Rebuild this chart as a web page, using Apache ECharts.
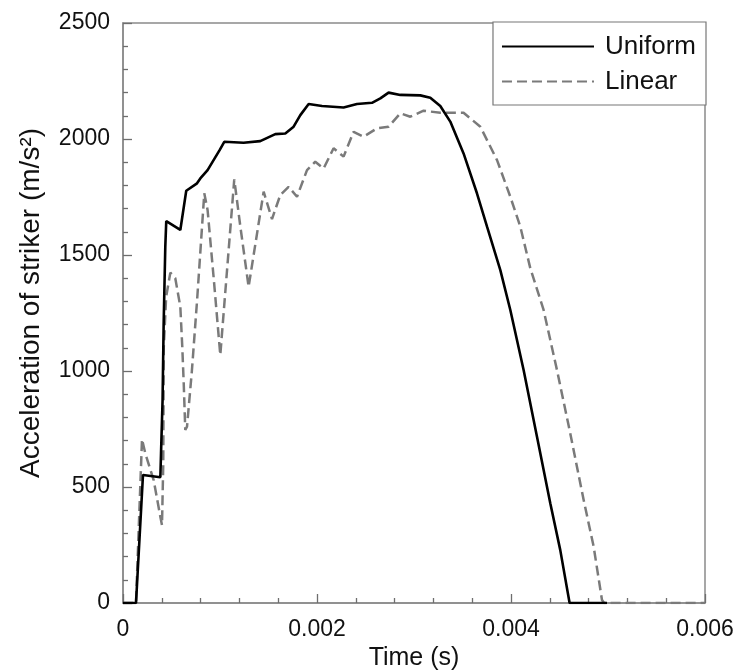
<!DOCTYPE html>
<html>
<head>
<meta charset="utf-8">
<script src="https://cdn.jsdelivr.net/npm/echarts@6/dist/echarts.min.js"></script>
<style>
html,body{margin:0;padding:0;background:#fff;}
#chart{width:737px;height:670px;}
</style>
</head>
<body>
<div id="chart"></div>
<script>
// Time (s) and acceleration (m/s^2)
const uniformTime = [0, 0.000134, 0.000206, 0.000385, 0.000392, 0.000408, 0.000419, 0.000436, 0.000446,
  0.000591, 0.000652, 0.000763, 0.000797, 0.000872, 0.000934, 0.000996, 0.001044, 0.001243, 0.001415,
  0.00157, 0.001673, 0.001759, 0.001828, 0.001914, 0.002052, 0.002274, 0.002412, 0.002567, 0.002653,
  0.002738, 0.002859, 0.003065, 0.003168, 0.003271, 0.003374, 0.003511, 0.003649, 0.003753, 0.00389,
  0.003993, 0.00413, 0.004268, 0.004405, 0.004508, 0.004604, 0.00499];
const uniformAcc = [0, 0, 552, 542, 645, 875, 1200, 1536, 1646,
  1608, 1777, 1809, 1830, 1866, 1909, 1952, 1988, 1984, 1991,
  2021, 2024, 2053, 2103, 2151, 2142, 2136, 2151, 2156, 2175,
  2200, 2190, 2188, 2178, 2142, 2075, 1938, 1766, 1622, 1435,
  1263, 1004, 717, 430, 228, 0, 0];

const linearTime = [0, 0.000134, 0.000196, 0.00023, 0.000316, 0.000385, 0.000402, 0.000415, 0.00042,
  0.000445, 0.000488, 0.000539, 0.000591, 0.000611, 0.000626, 0.000642, 0.00066, 0.00071, 0.000763,
  0.000838, 0.000872, 0.000935, 0.001003, 0.001147, 0.00121, 0.001295, 0.00145, 0.001536, 0.001622,
  0.001707, 0.001794, 0.001897, 0.001982, 0.002068, 0.002171, 0.002274, 0.002377, 0.00248, 0.002618,
  0.002738, 0.002859, 0.002962, 0.003099, 0.003271, 0.003511, 0.003684, 0.003856, 0.003993, 0.004096,
  0.004199, 0.004336, 0.004474, 0.004611, 0.004749, 0.004852, 0.004938, 0.00496, 0.006];
const linearAcc = [0, 0, 706, 645, 530, 372, 336, 600, 1100,
  1320, 1424, 1400, 1277, 1105, 947, 746, 760, 1000, 1300,
  1766, 1694, 1400, 1069, 1826, 1622, 1363, 1773, 1655, 1759,
  1794, 1751, 1866, 1902, 1873, 1960, 1924, 2031, 2010, 2046,
  2053, 2111, 2096, 2122, 2113, 2113, 2053, 1909, 1751, 1622,
  1443, 1263, 1004, 731, 444, 243, 13, 0, 0];

const xTicks = [0, 0.002, 0.004, 0.006];
const yTicks = [0, 500, 1000, 1500, 2000, 2500];

const zip = (a, b) => a.map((v, i) => [v, b[i]]);

const FONT = 'Liberation Sans, Arial, sans-serif';
const AXIS_GRAY = '#8a8a8a';
const TICK_GRAY = '#6e6e6e';

const chart = echarts.init(document.getElementById('chart'), null, {renderer: 'canvas'});
chart.setOption({
  animation: false,
  backgroundColor: '#fff',
  grid: {
    left: 123, right: 32, top: 23, bottom: 67,
    containLabel: false, outerBoundsMode: 'none',
    show: true, borderColor: AXIS_GRAY, borderWidth: 1.5, backgroundColor: 'transparent'
  },
  legend: {
    data: ['Uniform', 'Linear'],
    orient: 'vertical',
    right: 31, top: 22,
    backgroundColor: '#fff',
    borderColor: '#777', borderWidth: 1.2, borderRadius: 0,
    padding: [10, 10, 9, 8],
    itemWidth: 92, itemHeight: 14, itemGap: 6,
    itemStyle: {opacity: 0},
    textStyle: {fontFamily: FONT, fontSize: 26, color: '#111', lineHeight: 29, padding: [0, 0, 0, 6]}
  },
  xAxis: {
    type: 'value', min: xTicks[0], max: xTicks[xTicks.length - 1], interval: 0.002,
    name: 'Time (s)', nameLocation: 'middle', nameGap: 40,
    nameTextStyle: {fontFamily: FONT, fontSize: 25, color: '#111'},
    axisLine: {show: true, lineStyle: {color: AXIS_GRAY, width: 1.5}},
    axisTick: {show: true, inside: true, length: 9, lineStyle: {color: TICK_GRAY, width: 1.3}},
    minorTick: {show: true, splitNumber: 5, length: 5, lineStyle: {color: TICK_GRAY, width: 1.3}},
    splitLine: {show: false},
    axisLabel: {fontFamily: FONT, fontSize: 23, color: '#111', margin: 15,
      formatter: v => (v === 0 ? '0' : String(+v.toFixed(3)))}
  },
  yAxis: {
    type: 'value', min: yTicks[0], max: yTicks[yTicks.length - 1], interval: 500,
    name: 'Acceleration of striker (m/s²)', nameLocation: 'middle', nameGap: 78,
    nameTextStyle: {fontFamily: FONT, fontSize: 28, color: '#111', padding: [0, 0, 0, 20]},
    axisLine: {show: true, lineStyle: {color: AXIS_GRAY, width: 1.5}},
    axisTick: {show: true, inside: true, length: 9, lineStyle: {color: TICK_GRAY, width: 1.3}},
    minorTick: {show: true, splitNumber: 5, length: 5, lineStyle: {color: TICK_GRAY, width: 1.3}},
    splitLine: {show: false},
    axisLabel: {fontFamily: FONT, fontSize: 23, color: '#111', margin: 13,
      formatter: v => String(v)}
  },
  series: [
    {
      name: 'Linear', type: 'line', data: zip(linearTime, linearAcc),
      symbol: 'none', smooth: false,
      lineStyle: {color: '#7a7a7a', width: 2.5, type: [10, 5]},
      itemStyle: {color: '#7a7a7a'}
    },
    {
      name: 'Uniform', type: 'line', data: zip(uniformTime, uniformAcc),
      symbol: 'none', smooth: false,
      lineStyle: {color: '#000', width: 2.6},
      itemStyle: {color: '#000'}
    }
  ]
});
</script>
</body>
</html>
